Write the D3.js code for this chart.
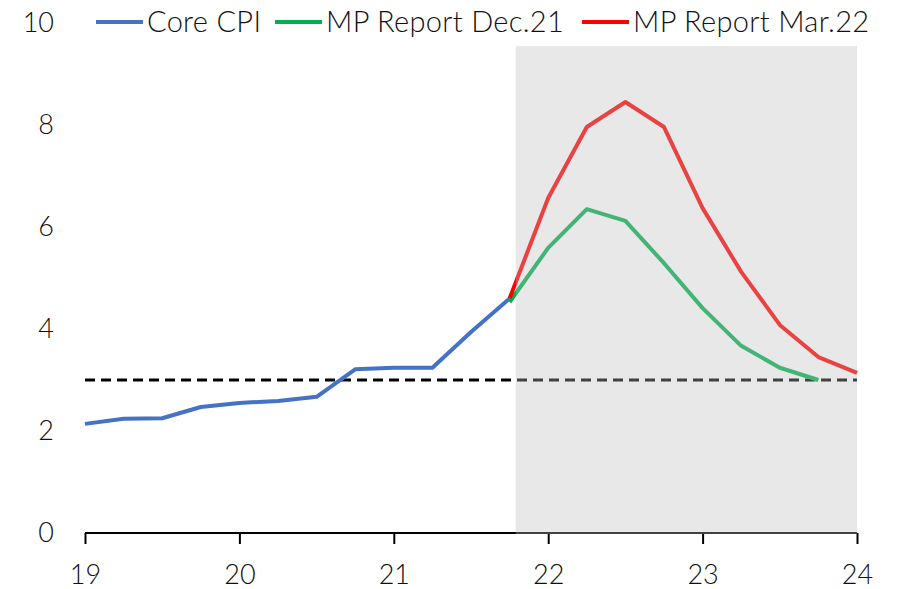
<!DOCTYPE html>
<html>
<head>
<meta charset="utf-8">
<script src="https://cdn.jsdelivr.net/npm/d3@7"></script>
<style>
  body { margin: 0; background: #fff; }
  svg text { font-family: Lato, "Open Sans", sans-serif; font-weight: 300; fill: #111; }
</style>
</head>
<body>
<div id="chart"></div>
<script>
// quarters, as year + fraction (19 = 2019 Q1)
var cpiPeriods = [19, 19.25, 19.5, 19.75, 20, 20.25, 20.5, 20.75, 21, 21.25, 21.5, 21.75];
var coreCpi   = [2.14, 2.24, 2.25, 2.47, 2.55, 2.59, 2.67, 3.21, 3.24, 3.24, 3.94, 4.60];

var decPeriods = [21.75, 22, 22.25, 22.5, 22.75, 23, 23.25, 23.5, 23.75];
var mpDec21    = [4.53, 5.59, 6.35, 6.12, 5.29, 4.41, 3.67, 3.24, 3.00];

var marPeriods = [21.75, 22, 22.25, 22.5, 22.75, 23, 23.25, 23.5, 23.75, 24];
var mpMar22    = [4.60, 6.57, 7.96, 8.45, 7.96, 6.37, 5.12, 4.08, 3.45, 3.14];

var targetPeriods = [19, 24];
var target = [3, 3];

var forecastStart = 21.79;
var xTicks = [19, 20, 21, 22, 23, 24];
var yTicks = [0, 2, 4, 6, 8, 10];

var legendNames = ["Core CPI", "MP Report Dec.21", "MP Report Mar.22"];
var legendColors = ["#4472C4", "#00B050", "#FF0000"];

var width = 899, height = 589;
var svg = d3.select("#chart").append("svg")
  .attr("width", width).attr("height", height);

var x = d3.scaleLinear().domain([19, 24]).range([85, 857]);
var y = d3.scaleLinear().domain([0, 10]).range([533, 23]);

var line = d3.line().x(function(d){ return x(d[0]); }).y(function(d){ return y(d[1]); });

// target line
svg.append("path")
  .datum(d3.zip(targetPeriods, target))
  .attr("d", line)
  .attr("fill", "none").attr("stroke", "#000")
  .attr("stroke-width", 3).attr("stroke-dasharray", "10,6");

// series
var series = [
  [d3.zip(cpiPeriods, coreCpi), legendColors[0]],
  [d3.zip(decPeriods, mpDec21), legendColors[1]],
  [d3.zip(marPeriods, mpMar22), legendColors[2]]
];
series.forEach(function(s){
  svg.append("path")
    .datum(s[0])
    .attr("d", line)
    .attr("fill", "none").attr("stroke", s[1])
    .attr("stroke-width", 4).attr("stroke-linejoin", "round");
});

// x axis
var xAxis = svg.append("g")
  .attr("transform", "translate(0," + y(0) + ")")
  .call(d3.axisBottom(x).tickValues(xTicks).tickSize(11).tickFormat(d3.format("d")));
xAxis.select(".domain").attr("stroke", "#000").attr("stroke-width", 2).attr("d", "M" + x(19) + ",0H" + x(24));
xAxis.selectAll(".tick line").attr("stroke", "#000").attr("stroke-width", 2);
xAxis.selectAll(".tick text")
  .attr("y", 42).attr("dy", "0.35em")
  .style("font-size", "27px");

// forecast shading, laid over the lines like the original
svg.append("rect")
  .attr("x", x(forecastStart)).attr("y", 46)
  .attr("width", x(24) - x(forecastStart))
  .attr("height", y(0) + 1 - 46)
  .attr("fill", "rgb(189,189,189)").attr("opacity", 0.35);

// y labels (no axis line)
svg.selectAll(".ylab").data(yTicks).enter().append("text")
  .attr("class", "ylab")
  .attr("x", 54).attr("y", function(d){ return y(d); })
  .attr("dy", "0.35em")
  .attr("text-anchor", "end")
  .style("font-size", "27px")
  .text(function(d){ return d; });

// legend
var legendX = [96, 275, 582];
legendNames.forEach(function(name, i){
  var g = svg.append("g").attr("transform", "translate(" + legendX[i] + ",22)");
  g.append("line").attr("x1", 0).attr("x2", 47)
    .attr("stroke", legendColors[i]).attr("stroke-width", 4);
  g.append("text").attr("x", 51).attr("dy", "0.35em")
    .style("font-size", "29px").style("letter-spacing", "0.3px").text(name);
});
</script>
</body>
</html>
